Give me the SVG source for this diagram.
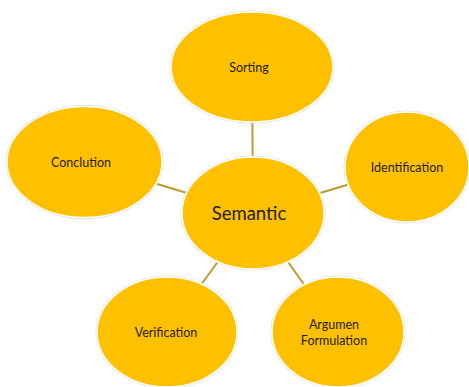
<svg xmlns="http://www.w3.org/2000/svg" width="469" height="387" viewBox="0 0 469 387">
  <style>
    .link { stroke: #bf9a2c; stroke-width: 2; }
    .halo { fill: none; stroke: #d9d9d9; stroke-width: 1; }
    .bubble { fill: #ffc000; stroke: #ffffff; stroke-width: 1.5; }
    .label { font-family: Lato, "Open Sans", sans-serif; font-size: 12.5px; fill: #241d00; text-anchor: middle; }
    .hub { font-size: 18.5px; }
  </style>
  <rect width="469" height="387" fill="#ffffff"/>
  <g id="connectors">
    <line class="link" x1="252" y1="67" x2="253" y2="213"/>
    <line class="link" x1="84.5" y1="162" x2="253" y2="213"/>
    <line class="link" x1="407" y1="167" x2="253" y2="213"/>
    <line class="link" x1="167" y1="332" x2="253" y2="213"/>
    <line class="link" x1="338" y1="332" x2="253" y2="213"/>
  </g>
  <g id="sorting">
    <ellipse class="halo" cx="252" cy="67" rx="82" ry="56"/>
    <ellipse class="bubble" cx="252" cy="67" rx="81" ry="55"/>
    <text class="label" x="249" y="72">Sorting</text>
  </g>
  <g id="conclution">
    <ellipse class="halo" cx="84.5" cy="162" rx="78.5" ry="56.5"/>
    <ellipse class="bubble" cx="84.5" cy="162" rx="77.5" ry="55.5"/>
    <text class="label" x="81" y="167">Conclution</text>
  </g>
  <g id="identification">
    <ellipse class="halo" cx="407" cy="167" rx="63" ry="56"/>
    <ellipse class="bubble" cx="407" cy="167" rx="62" ry="55"/>
    <text class="label" x="407" y="172">Identification</text>
  </g>
  <g id="semantic">
    <ellipse class="halo" cx="253" cy="213" rx="72" ry="57"/>
    <ellipse class="bubble" cx="253" cy="213" rx="71" ry="56"/>
    <text class="label hub" x="249" y="220">Semantic</text>
  </g>
  <g id="verification">
    <ellipse class="halo" cx="167" cy="332" rx="71" ry="56"/>
    <ellipse class="bubble" cx="167" cy="332" rx="70" ry="55"/>
    <text class="label" x="166" y="337">Verification</text>
  </g>
  <g id="argumen-formulation">
    <ellipse class="halo" cx="338" cy="332" rx="67" ry="56"/>
    <ellipse class="bubble" cx="338" cy="332" rx="66" ry="55"/>
    <text class="label" x="334" y="329">Argumen</text>
    <text class="label" x="334" y="345">Formulation</text>
  </g>
</svg>
